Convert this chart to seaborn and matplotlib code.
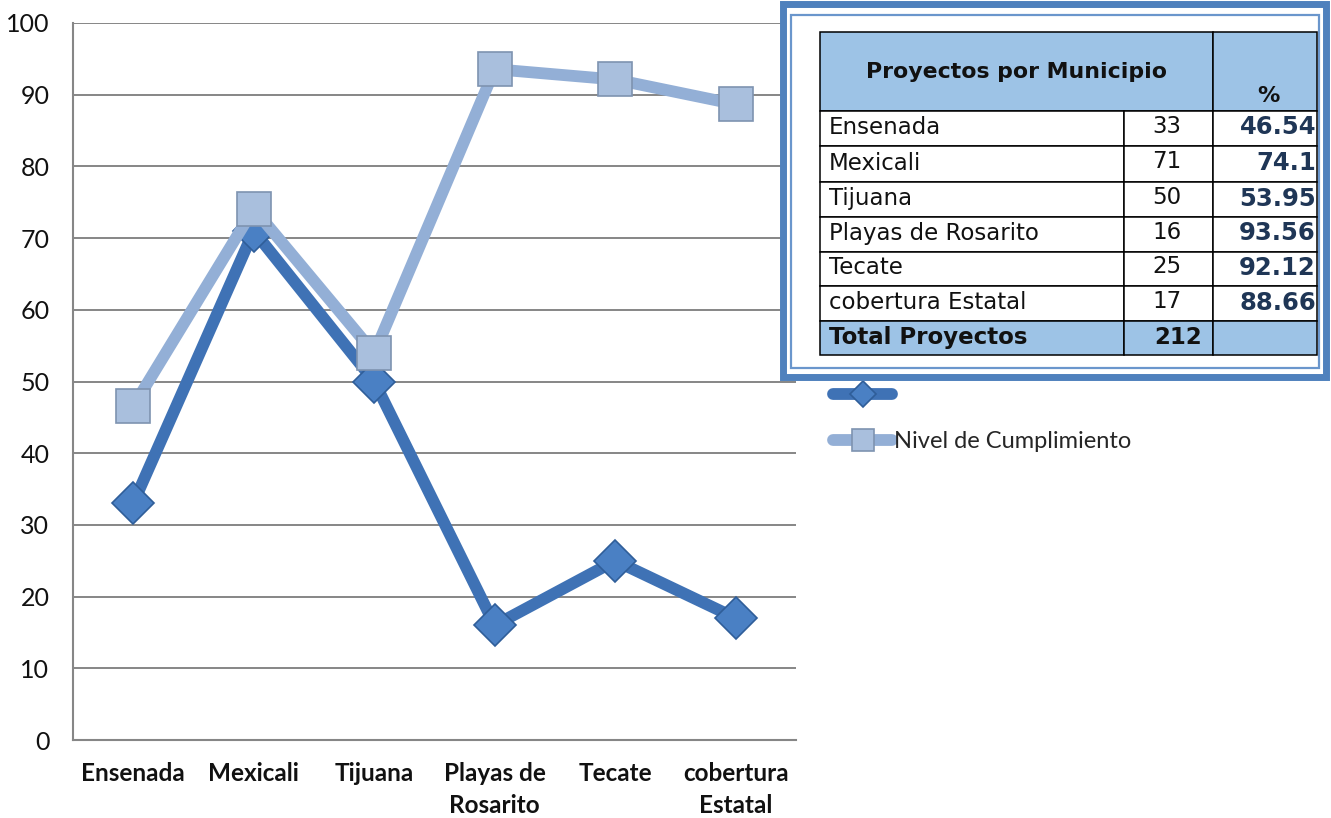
import numpy as np
import pandas as pd
import matplotlib
matplotlib.use("Agg")
import matplotlib.pyplot as plt
import seaborn as sns
from matplotlib.patches import Rectangle

# ---------------- data ----------------
categories = ["Ensenada", "Mexicali", "Tijuana", "Playas de\nRosarito", "Tecate", "cobertura\nEstatal"]
table_names = ["Ensenada", "Mexicali", "Tijuana", "Playas de Rosarito", "Tecate", "cobertura Estatal"]
proyectos = [33, 71, 50, 16, 25, 17]
cumplimiento = [46.54, 74.1, 53.95, 93.56, 92.12, 88.66]
pct_labels = ["46.54", "74.1", "53.95", "93.56", "92.12", "88.66"]
total_label = "212"
table_title = "Proyectos por Municipio"
total_title = "Total Proyectos"
legend_labels = ["", "Nivel de Cumplimiento"]
yticks = [0, 10, 20, 30, 40, 50, 60, 70, 80, 90, 100]

W, H = 1331, 818
sns.set_theme(style="white")
plt.rcParams['font.family'] = ['Lato', 'DejaVu Sans']

fig = plt.figure(figsize=(W / 100, H / 100), dpi=100)
fx = lambda x: x / W
fy = lambda y: 1 - y / H
ax = fig.add_axes([fx(73), fy(740), fx(796) - fx(73), fy(23) - fy(740)])

df = pd.DataFrame({"pos": np.arange(len(categories)), "proyectos": proyectos,
                   "cumplimiento": cumplimiento})

dark = "#3F72B5"
light = "#93AFD6"
sns.lineplot(data=df, x="pos", y="proyectos", ax=ax, color=dark, linewidth=8.5,
             marker="D", markersize=21, markerfacecolor="#4A80C4",
             markeredgecolor="#2F5E99", markeredgewidth=1.2, legend=False,
             solid_capstyle="round", solid_joinstyle="round", zorder=3)
sns.lineplot(data=df, x="pos", y="cumplimiento", ax=ax, color=light, linewidth=8.5,
             marker="s", markersize=24, markerfacecolor="#A9BFDD",
             markeredgecolor="#7E93B0", markeredgewidth=1.2, legend=False,
             solid_capstyle="round", solid_joinstyle="round", zorder=4)

ax.set_xlim(-0.5, len(categories) - 0.5)
ax.set_ylim(0, 100)
ax.set_yticks(yticks)
ax.set_yticklabels([str(v) for v in yticks], fontsize=18, color="#111111")
ax.set_xticks(np.arange(len(categories)))
ax.set_xticklabels(categories, fontsize=17.5, fontweight="bold", color="#111111",
                   linespacing=1.45)
ax.set_xticks(np.arange(-0.5, len(categories)), minor=True)
ax.tick_params(axis="x", which="major", length=0, pad=16)
ax.tick_params(axis="x", which="minor", length=7, width=1.5, color="#868686", direction="out")
ax.tick_params(axis="y", length=7, width=1.5, color="#868686", direction="out", pad=10)
ax.set_xlabel("")
ax.set_ylabel("")
ax.grid(axis="y", color="#868686", linewidth=1.4)
ax.set_axisbelow(True)
for s in ["top", "right"]:
    ax.spines[s].set_visible(False)
for s in ["left", "bottom"]:
    ax.spines[s].set_color("#868686")
    ax.spines[s].set_linewidth(1.5)

# ---------------- legend ----------------
lines = ax.get_lines()
data_lines = [l for l in lines if len(l.get_xdata()) == len(categories)]
leg = fig.legend(handles=data_lines[:2], labels=legend_labels, loc="upper left",
                 bbox_to_anchor=(fx(833), fy(385)), frameon=False, fontsize=17,
                 handlelength=2.5, handletextpad=0.1, labelspacing=1.05,
                 borderpad=0, borderaxespad=0, markerscale=0.65)

# ---------------- table overlay ----------------
blue = "#4F81BD"
fig.add_artist(Rectangle((fx(783), fy(377)), fx(1326) - fx(783), fy(4) - fy(377),
                         transform=fig.transFigure, fill=True, facecolor="white",
                         edgecolor=blue, linewidth=5, zorder=10))
fig.add_artist(Rectangle((fx(791), fy(368)), fx(1319) - fx(791), fy(15) - fy(368),
                         transform=fig.transFigure, fill=False,
                         edgecolor="#6A96CC", linewidth=1.6, zorder=11))

cols = [820, 1124, 1213, 1317]
rows = [32, 111, 146, 182, 217, 252, 286, 321, 355]
hdr = "#9DC3E6"
tk = dict(transform=fig.transFigure, zorder=13)

def cell(x0, y0, x1, y1, fc):
    fig.add_artist(Rectangle((fx(x0), fy(y1)), fx(x1) - fx(x0), fy(y0) - fy(y1),
                             facecolor=fc, edgecolor="black", linewidth=1.1,
                             transform=fig.transFigure, zorder=12))

cell(cols[0], rows[0], cols[2], rows[1], hdr)
cell(cols[2], rows[0], cols[3], rows[1], hdr)
for i in range(len(table_names)):
    y0, y1 = rows[i + 1], rows[i + 2]
    cell(cols[0], y0, cols[1], y1, "white")
    cell(cols[1], y0, cols[2], y1, "white")
    cell(cols[2], y0, cols[3], y1, "white")
y0, y1 = rows[-2], rows[-1]
cell(cols[0], y0, cols[1], y1, hdr)
cell(cols[1], y0, cols[2], y1, hdr)
cell(cols[2], y0, cols[3], y1, hdr)

tfont = ['DejaVu Sans']
fig.text(fx((cols[0] + cols[2]) / 2), fy(72), table_title, ha="center", va="center",
         fontsize=15.8, fontweight="bold", family=tfont, color="#111111", **tk)
fig.text(fx(1268), fy(96), "%", ha="center", va="center", fontsize=16,
         fontweight="bold", family=tfont, color="#111111", **tk)
for i, (nm, n, p) in enumerate(zip(table_names, proyectos, pct_labels)):
    yc = (rows[i + 1] + rows[i + 2]) / 2 - 1
    fig.text(fx(829), fy(yc), nm, ha="left", va="center", fontsize=16.5,
             family=tfont, color="#111111", **tk)
    fig.text(fx(1167), fy(yc - 1), str(n), ha="center", va="center", fontsize=16.5,
             family=tfont, color="#111111", **tk)
    fig.text(fx(1316), fy(yc), p, ha="right", va="center", fontsize=17.5,
             fontweight="bold", family=tfont, color="#1F3656", **tk)
yc = (rows[-2] + rows[-1]) / 2
fig.text(fx(829), fy(yc), total_title, ha="left", va="center", fontsize=16.5,
         fontweight="bold", family=tfont, color="#111111", **tk)
fig.text(fx(1202), fy(yc), total_label, ha="right", va="center", fontsize=16.5,
         fontweight="bold", family=tfont, color="#111111", **tk)

fig.savefig("out.png", dpi=100)
